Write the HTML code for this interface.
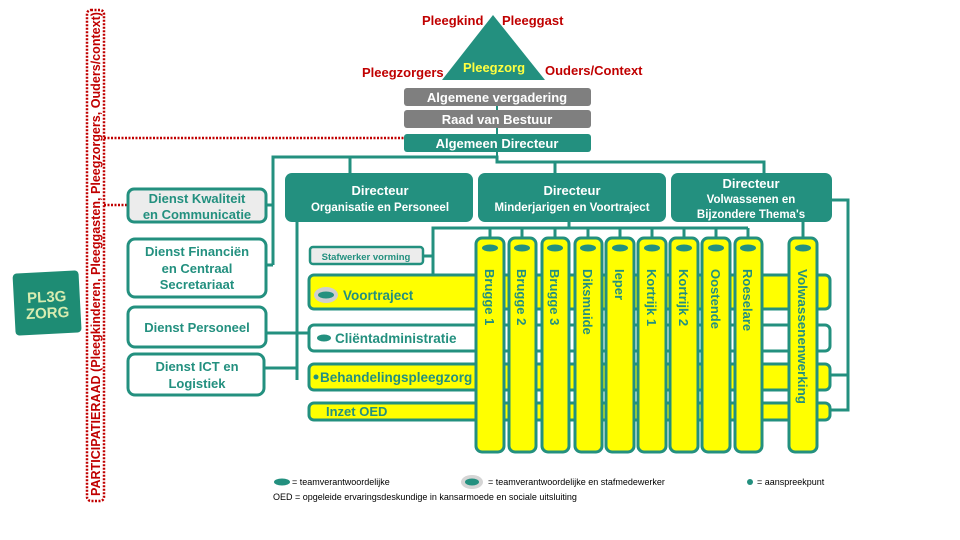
<!DOCTYPE html>
<html><head><meta charset="utf-8"><style>
html,body{margin:0;padding:0;background:#fff}
svg{display:block}
text{font-family:"Liberation Sans",sans-serif;font-weight:bold}
text.n{font-weight:normal}
</style></head><body>
<svg width="960" height="540" viewBox="0 0 960 540" xmlns="http://www.w3.org/2000/svg">
<rect width="960" height="540" fill="#fff"/>
<rect x="87" y="10" width="17" height="491" rx="4" fill="none" stroke="#c00000" stroke-width="2.5" stroke-dasharray="2,1.5"/>
<text transform="translate(100,496) rotate(-90)" font-size="12.5" fill="#c00000" textLength="484" lengthAdjust="spacingAndGlyphs">PARTICIPATIERAAD (Pleegkinderen, Pleeggasten, Pleegzorgers, Ouders/context)</text>
<line x1="104" y1="138" x2="404" y2="138" stroke="#c00000" stroke-width="2.5" stroke-dasharray="2,1.5"/>
<line x1="104" y1="205" x2="128" y2="205" stroke="#c00000" stroke-width="2.5" stroke-dasharray="2,1.5"/>
<g transform="rotate(-3 47 302)"><rect x="14" y="272" width="66" height="62" rx="4" fill="#1e8c74"/>
<text x="47" y="302" font-size="15" fill="#d8ecb0" text-anchor="middle">PL3G</text>
<text x="47" y="318" font-size="15" fill="#d8ecb0" text-anchor="middle">ZORG</text></g>
<polygon points="493,15 442,80 545,80" fill="#23907f"/>
<text x="494" y="72" font-size="13" fill="#ffff40" text-anchor="middle">Pleegzorg</text>
<g fill="#c00000" font-size="13">
<text x="422" y="25">Pleegkind</text><text x="502" y="25">Pleeggast</text>
<text x="362" y="77">Pleegzorgers</text><text x="545" y="75">Ouders/Context</text></g>
<line x1="497" y1="88" x2="497" y2="162" stroke="#23907f" stroke-width="2"/>
<rect x="404" y="88" width="187" height="18" rx="3" fill="#7f7f7f"/>
<rect x="404" y="110" width="187" height="18" rx="3" fill="#7f7f7f"/>
<rect x="404" y="134" width="187" height="18" rx="3" fill="#23907f"/>
<g fill="#fff" font-size="13" text-anchor="middle">
<text x="497" y="102">Algemene vergadering</text>
<text x="497" y="124">Raad van Bestuur</text>
<text x="497" y="148">Algemeen Directeur</text></g>
<g stroke="#23907f" stroke-width="3" fill="none">
<polyline points="273,265 273,157 497,157 497,162 764,162 764,174"/>
<line x1="350" y1="157" x2="350" y2="174"/><line x1="555" y1="162" x2="555" y2="174"/>
<line x1="266" y1="205" x2="273" y2="205"/><line x1="266" y1="265" x2="273" y2="265"/>
<polyline points="297,222 297,380"/>
<line x1="266" y1="333" x2="309" y2="333"/><line x1="264" y1="368" x2="297" y2="368"/>
<polyline points="569,222 569,228"/>
<polyline points="433,283 433,228 748,228"/>
<line x1="423" y1="256" x2="433" y2="256"/>
<line x1="490" y1="228" x2="490" y2="238"/><line x1="522" y1="228" x2="522" y2="238"/><line x1="555" y1="228" x2="555" y2="238"/><line x1="588" y1="228" x2="588" y2="238"/><line x1="620" y1="228" x2="620" y2="238"/><line x1="652" y1="228" x2="652" y2="238"/><line x1="684" y1="228" x2="684" y2="238"/><line x1="716" y1="228" x2="716" y2="238"/><line x1="748" y1="228" x2="748" y2="238"/>
<line x1="803" y1="222" x2="803" y2="238"/>
<polyline points="832,200 848,200 848,410 830,410"/><line x1="830" y1="375" x2="848" y2="375"/>
</g>
<g stroke="#23907f" stroke-width="3">
<rect x="128" y="189" width="138" height="33" rx="6" fill="#ececec"/>
<rect x="128" y="239" width="138" height="58" rx="7" fill="#fff"/>
<rect x="128" y="307" width="138" height="40" rx="7" fill="#fff"/>
<rect x="128" y="354" width="136" height="41" rx="7" fill="#fff"/>
</g>
<g fill="#23907f" font-size="13" text-anchor="middle">
<text x="197" y="203">Dienst Kwaliteit</text><text x="197" y="219">en Communicatie</text>
<text x="197" y="256">Dienst Financiën</text><text x="197" y="273">en Centraal</text><text x="197" y="289">Secretariaat</text>
<text x="197" y="332">Dienst Personeel</text>
<text x="197" y="371">Dienst ICT en</text><text x="197" y="388">Logistiek</text></g>
<g fill="#23907f"><rect x="285" y="173" width="188" height="49" rx="7"/><rect x="478" y="173" width="188" height="49" rx="7"/><rect x="671" y="173" width="161" height="49" rx="7"/></g>
<g fill="#fff" text-anchor="middle">
<text x="380" y="195" font-size="13">Directeur</text><text x="380" y="211" font-size="11.5">Organisatie en Personeel</text>
<text x="572" y="195" font-size="13">Directeur</text><text x="572" y="211" font-size="11.5">Minderjarigen  en Voortraject</text>
<text x="751" y="188" font-size="13">Directeur</text><text x="751" y="203" font-size="11.5">Volwassenen en</text><text x="751" y="218" font-size="11.5">Bijzondere Thema's</text></g>
<rect x="310" y="247" width="113" height="17" rx="3" fill="#ececec" stroke="#23907f" stroke-width="2.5"/>
<text x="366" y="260" font-size="9.5" fill="#23907f" text-anchor="middle">Stafwerker vorming</text>
<g stroke="#23907f" stroke-width="3">
<rect x="309" y="275" width="521" height="34" rx="5" fill="#ffff00"/>
<rect x="309" y="325" width="521" height="26" rx="5" fill="#fff"/>
<rect x="309" y="364" width="521" height="26" rx="5" fill="#ffff00"/>
<rect x="309" y="403" width="521" height="17" rx="5" fill="#ffff00"/>
</g>
<ellipse cx="326" cy="295" rx="12" ry="8" fill="#cfcfcf"/><ellipse cx="326" cy="295" rx="8" ry="3.5" fill="#23907f"/>
<ellipse cx="324" cy="338" rx="7" ry="3.5" fill="#23907f"/>
<circle cx="316" cy="377" r="2.5" fill="#23907f"/>
<g fill="#23907f" font-size="13.5">
<text x="343" y="300">Voortraject</text><text x="335" y="343">Cliëntadministratie</text>
<text x="320" y="382">Behandelingspleegzorg</text><text x="326" y="416" font-size="13">Inzet OED</text></g>
<g stroke="#23907f" stroke-width="3" fill="#ffff00">
<rect x="476" y="238" width="28" height="214" rx="6"/><rect x="509" y="238" width="27" height="214" rx="6"/><rect x="542" y="238" width="27" height="214" rx="6"/><rect x="575" y="238" width="27" height="214" rx="6"/><rect x="606" y="238" width="28" height="214" rx="6"/><rect x="638" y="238" width="28" height="214" rx="6"/><rect x="670" y="238" width="28" height="214" rx="6"/><rect x="702" y="238" width="28" height="214" rx="6"/><rect x="735" y="238" width="27" height="214" rx="6"/><rect x="789" y="238" width="28" height="214" rx="6"/>
</g>
<g fill="#23907f">
<ellipse cx="490" cy="248" rx="8" ry="3.5"/><ellipse cx="522" cy="248" rx="8" ry="3.5"/><ellipse cx="555" cy="248" rx="8" ry="3.5"/><ellipse cx="588" cy="248" rx="8" ry="3.5"/><ellipse cx="620" cy="248" rx="8" ry="3.5"/><ellipse cx="652" cy="248" rx="8" ry="3.5"/><ellipse cx="684" cy="248" rx="8" ry="3.5"/><ellipse cx="716" cy="248" rx="8" ry="3.5"/><ellipse cx="748" cy="248" rx="8" ry="3.5"/><ellipse cx="803" cy="248" rx="8" ry="3.5"/>
</g>
<g fill="#23907f" font-size="13">
<text transform="translate(485,269) rotate(90)">Brugge 1</text>
<text transform="translate(517,269) rotate(90)">Brugge 2</text>
<text transform="translate(550,269) rotate(90)">Brugge 3</text>
<text transform="translate(583,269) rotate(90)">Diksmuide</text>
<text transform="translate(615,269) rotate(90)">Ieper</text>
<text transform="translate(647,269) rotate(90)">Kortrijk 1</text>
<text transform="translate(679,269) rotate(90)">Kortrijk 2</text>
<text transform="translate(711,269) rotate(90)">Oostende</text>
<text transform="translate(743,269) rotate(90)">Roeselare</text>
<text transform="translate(798,269) rotate(90)" textLength="135" lengthAdjust="spacingAndGlyphs">Volwassenenwerking</text>
</g>
<ellipse cx="282" cy="482" rx="8" ry="3.5" fill="#23907f"/>
<ellipse cx="472" cy="482" rx="11" ry="7" fill="#d5d5d5"/><ellipse cx="472" cy="482" rx="7" ry="3.5" fill="#23907f"/>
<circle cx="750" cy="482" r="3" fill="#23907f"/>
<g font-size="9" fill="#000">
<text class="n" x="292" y="485">= teamverantwoordelijke</text>
<text class="n" x="488" y="485">= teamverantwoordelijke en stafmedewerker</text>
<text class="n" x="757" y="485">=  aanspreekpunt</text>
<text class="n" x="273" y="500">OED =  opgeleide ervaringsdeskundige in kansarmoede en sociale uitsluiting</text></g>
</svg>
</body></html>
